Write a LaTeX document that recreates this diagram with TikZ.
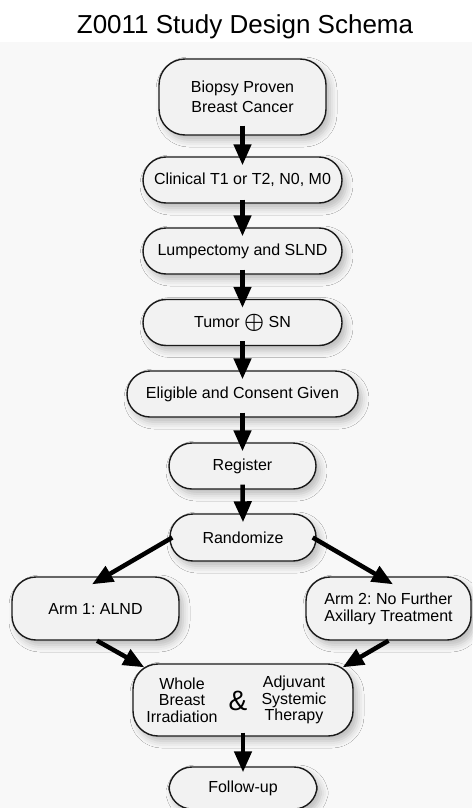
\documentclass[tikz,border=0pt]{standalone}
\usepackage{fontspec}
\usepackage{graphicx}
\setmainfont{Liberation Sans}
\usetikzlibrary{arrows.meta,shadows.blur}
\definecolor{bgc}{HTML}{F8F8F8}
\definecolor{boxc}{HTML}{F2F2F2}
\definecolor{linec}{HTML}{1A1A1A}
\frenchspacing
\begin{document}
\begin{tikzpicture}[x=1pt,y=1pt,
  box/.style={draw=linec, line width=1.4pt, fill=boxc, rounded corners=#1,
    inner sep=0pt, align=center, font=\fontsize{16}{17}\selectfont\frenchspacing,
    blur shadow={shadow xshift=4pt, shadow yshift=-5pt, shadow blur radius=7pt, shadow opacity=25}},
  box/.default=23pt,
  txt/.style={inner sep=0pt, align=center, font=\fontsize{16}{16.5}\selectfont},
  flow/.style={line width=4.5pt, -{Triangle[width=17pt,length=21pt]}, black}
]
\useasboundingbox (0,0) rectangle (472,-808);
\fill[white] (0,0) rectangle (472,-808);
\fill[bgc] (0,-42) rectangle (472,-808);
\node[font=\fontsize{26}{30}\selectfont, anchor=base, inner sep=0pt] (title) at (245,-34) {Z0011 Study Design Schema};

\node[box=26pt, minimum width=167pt, minimum height=76pt, font=\fontsize{16}{20}\selectfont] (biopsy) at (242.5,-97) {Biopsy Proven\\Breast Cancer};
\node[box, minimum width=199pt, minimum height=46pt] (clin) at (242.5,-180) {Clinical T1 or T2, N0, M0};
\node[box, minimum width=199pt, minimum height=46pt] (lump) at (242.5,-251) {Lumpectomy and SLND};
\node[box, minimum width=199pt, minimum height=46pt] (tumor) at (242.5,-322.5) {Tumor \raisebox{-0.3pt}{\scalebox{1.3}{\boldmath$\oplus$}} SN};
\node[box, minimum width=231pt, minimum height=46pt] (elig) at (242.5,-394) {Eligible and Consent Given};
\node[box, minimum width=147pt, minimum height=46pt] (reg) at (242.5,-466) {Register};
\node[box, minimum width=146pt, minimum height=47pt] (rand) at (243,-537.5) {Randomize};
\node[box=24pt, minimum width=167pt, minimum height=63pt] (arm1) at (95.5,-608.5) {Arm 1: ALND};
\node[box=24pt, minimum width=165pt, minimum height=63pt] (arm2) at (388.5,-608.5) {Arm 2: No Further\\Axillary Treatment};
\node[box=25pt, minimum width=220pt, minimum height=72pt] (whole) at (243,-700) {};
\node[txt] (wbi) at (182,-700) {Whole\\Breast\\Irradiation};
\node[txt, font=\fontsize{28}{28}\selectfont] (amp) at (238,-701) {\&};
\node[txt] (ast) at (294,-700) {Adjuvant\\Systemic\\Therapy};
\node[box, minimum width=148pt, minimum height=42pt] (follow) at (243,-788) {Follow-up};

\draw[flow] ([yshift=10pt]biopsy.south) -- ([yshift=-9pt]clin.north);
\draw[flow] ([yshift=4pt]clin.south) -- ([yshift=-9pt]lump.north);
\draw[flow] ([yshift=5pt]lump.south) -- ([yshift=-9pt]tumor.north);
\draw[flow] ([yshift=5pt]tumor.south) -- ([yshift=-9pt]elig.north);
\draw[flow] ([yshift=5pt]elig.south) -- ([yshift=-9pt]reg.north);
\draw[flow] ([yshift=5pt]reg.south) -- ([yshift=-9pt]rand.north);
\draw[flow] ([xshift=3pt]rand.west) -- ([shift={(-3.5pt,-8pt)}]arm1.north);
\draw[flow] ([xshift=-4pt]rand.east) -- ([shift={(4.5pt,-8pt)}]arm2.north);
\draw[flow] ([xshift=1.5pt]arm1.south) -- ([shift={(12pt,-4pt)}]whole.north west);
\draw[flow] (arm2.south) -- ([shift={(-11pt,-4pt)}]whole.north east);
\draw[flow] ([yshift=4pt]whole.south) -- ([yshift=-6pt]follow.north);
\end{tikzpicture}
\end{document}
